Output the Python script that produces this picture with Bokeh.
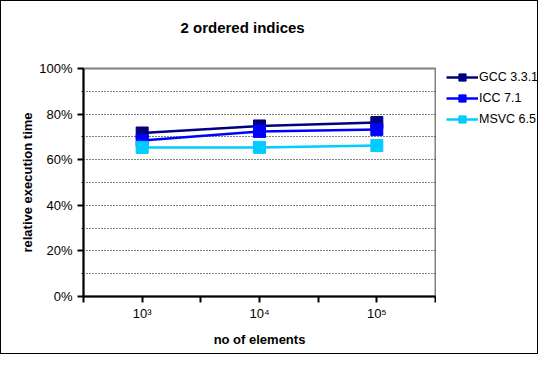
from bokeh.plotting import figure
from bokeh.models import (FixedTicker, NumeralTickFormatter, Legend, LegendItem)
from bokeh.layouts import row
from bokeh.embed import file_html
from bokeh.resources import INLINE

# ---- data ----
x_pos = [1, 2, 3]
x_tick_labels = ["10³", "10⁴", "10⁵"]
series_names = ["GCC 3.3.1", "ICC 7.1", "MSVC 6.5"]
gcc = [0.717, 0.748, 0.763]
icc = [0.684, 0.724, 0.732]
msvc = [0.654, 0.654, 0.662]
series_values = [gcc, icc, msvc]
series_colors = ["#000080", "#0000FF", "#00CCFF"]
y_ticks = [0, 0.2, 0.4, 0.6, 0.8, 1.0]
y_grid = [0.1, 0.2, 0.3, 0.4, 0.5, 0.6, 0.7, 0.8, 0.9]

FONT = "Liberation Sans"

p = figure(width=436, height=354, x_range=(0.5, 3.5), y_range=(0, 1),
           output_backend="svg", toolbar_location=None,
           min_border_left=82, min_border_right=2,
           min_border_top=67, min_border_bottom=59)
p.styles = {"border-left": "1px solid black", "border-top": "1px solid black",
            "border-bottom": "1px solid black"}
p.background_fill_color = "white"
p.border_fill_color = "white"
p.outline_line_color = "#808080"
p.outline_line_width = 2

# title
p.title.text = "2 ordered indices\n"
p.title.align = "left"
p.title.offset = 97
p.title.standoff = 31
p.title.text_font = FONT
p.title.text_font_size = "15px"
p.title.text_font_style = "bold"
p.title.text_color = "black"

# x axis
xt = [0.5, 1, 1.5, 2, 2.5, 3, 3.5]
p.xaxis.ticker = FixedTicker(ticks=xt)
overrides = {t: "" for t in xt}
for xp, lab in zip(x_pos, x_tick_labels):
    overrides[xp] = lab
p.xaxis.major_label_overrides = overrides
p.xaxis.axis_line_width = 2
p.xaxis.axis_line_color = "black"
p.xaxis.major_tick_out = 6
p.xaxis.major_tick_in = 0
p.xaxis.major_tick_line_width = 2
p.xaxis.minor_tick_line_color = None
p.xaxis.major_label_standoff = 3
p.xaxis.major_label_text_font = FONT
p.xaxis.major_label_text_font_size = "13px"
p.xaxis.major_label_text_color = "black"
p.xaxis.axis_label = "no of elements"
p.xaxis.axis_label_standoff = 8
p.xaxis.axis_label_text_font = FONT
p.xaxis.axis_label_text_font_size = "13px"
p.xaxis.axis_label_text_font_style = "bold"
p.xaxis.axis_label_text_color = "black"

# y axis
p.yaxis.ticker = FixedTicker(ticks=y_ticks, minor_ticks=[0.1, 0.3, 0.5, 0.7, 0.9])
p.yaxis.formatter = NumeralTickFormatter(format="0%")
p.yaxis.axis_line_width = 2
p.yaxis.axis_line_color = "black"
p.yaxis.major_tick_out = 6
p.yaxis.major_tick_in = 0
p.yaxis.major_tick_line_width = 2
p.yaxis.minor_tick_out = 2
p.yaxis.minor_tick_in = 0
p.yaxis.minor_tick_line_color = "black"
p.yaxis.major_label_standoff = 5
p.yaxis.major_label_text_font = FONT
p.yaxis.major_label_text_font_size = "13px"
p.yaxis.major_label_text_color = "black"
p.yaxis.axis_label = "relative execution time"
p.yaxis.axis_label_standoff = 1
p.yaxis.axis_label_text_font = FONT
p.yaxis.axis_label_text_font_size = "13px"
p.yaxis.axis_label_text_font_style = "bold"
p.yaxis.axis_label_text_color = "black"

# grid
p.xgrid.grid_line_color = None
p.ygrid.ticker = FixedTicker(ticks=y_grid)
p.ygrid.grid_line_color = "black"
p.ygrid.grid_line_dash = "1 2"
p.ygrid.grid_line_width = 1

for name, vals, col in zip(series_names, series_values, series_colors):
    p.line(x_pos, vals, line_color=col, line_width=2.5)
    p.scatter(x_pos, vals, marker="square", size=12, fill_color=col,
              line_color=col)

# ---- legend panel (separate figure, same series styles) ----
p2 = figure(width=102, height=354, x_range=(100, 101), y_range=(100, 101),
            output_backend="svg", toolbar_location=None,
            x_axis_type=None, y_axis_type=None,
            min_border_left=0, min_border_right=0,
            min_border_top=0, min_border_bottom=0)
p2.styles = {"border-right": "1px solid black", "border-top": "1px solid black",
             "border-bottom": "1px solid black"}
p2.outline_line_color = None
p2.background_fill_color = "white"
p2.border_fill_color = "white"
p2.xgrid.visible = False
p2.ygrid.visible = False

items = []
for name, vals, col in zip(series_names, series_values, series_colors):
    r1 = p2.line(x_pos, vals, line_color=col, line_width=2.5)
    r2 = p2.scatter(x_pos, vals, marker="square", size=12, fill_color=col,
                    line_color=col)
    items.append(LegendItem(label=name, renderers=[r1, r2]))

legend = Legend(items=items, location=(10, 168), padding=0, margin=0,
                spacing=3, glyph_width=32, glyph_height=18, label_standoff=1,
                label_text_font=FONT, label_text_font_size="12.5px",
                label_text_color="black", border_line_color=None,
                background_fill_alpha=0)
p2.add_layout(legend)

layout = row(p, p2)
open("out.html", "w").write(file_html(layout, INLINE))
